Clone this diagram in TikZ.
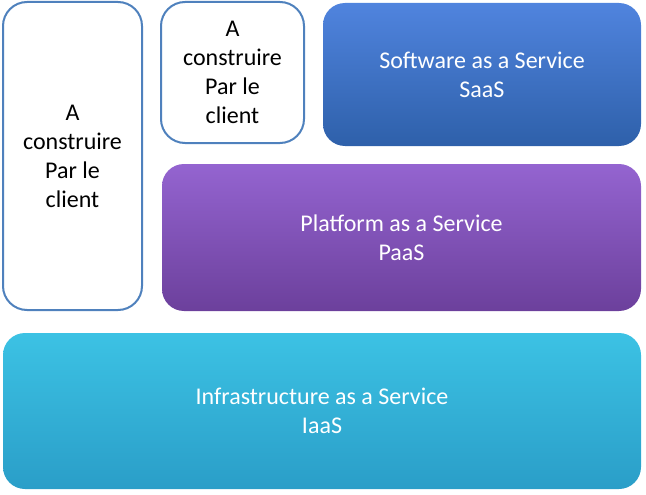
\documentclass[tikz,border=0pt]{standalone}
\usepackage{fontspec}
\setmainfont{Carlito}
\definecolor{outl}{RGB}{79,129,189}
\definecolor{saastop}{RGB}{80,132,222}
\definecolor{saasbot}{RGB}{46,96,170}
\definecolor{paastop}{RGB}{148,100,208}
\definecolor{paasbot}{RGB}{108,64,156}
\definecolor{iaastop}{RGB}{60,194,228}
\definecolor{iaasbot}{RGB}{42,158,200}
\begin{document}
\begin{tikzpicture}[x=1pt,y=-1pt,
  clientbox/.style={draw=outl,line width=2pt,fill=white,rounded corners=24pt,
    align=center,text=black,inner sep=0pt,
    font=\fontsize{24}{29}\selectfont},
  svcbox/.style={rounded corners=22pt,align=center,text=white,inner sep=0pt,
    font=\fontsize{24}{29}\selectfont}]
\useasboundingbox (0,0) rectangle (646,495);
\node[clientbox,minimum width=139pt,minimum height=308pt] (left) at (72.5,156)
  {A\\construire\\Par le\\client};
\node[clientbox,minimum width=143pt,minimum height=141pt] (small) at (232.5,72.5)
  {A\\construire\\Par le\\client};
\node[svcbox,top color=saastop,bottom color=saasbot,minimum width=318pt,minimum height=143pt] (saas) at (482,74.5)
  {Software as a Service\\SaaS};
\node[svcbox,top color=paastop,bottom color=paasbot,minimum width=479pt,minimum height=147pt] (paas) at (401.5,237.5)
  {Platform as a Service\\PaaS};
\node[svcbox,top color=iaastop,bottom color=iaasbot,minimum width=638pt,minimum height=156pt] (iaas) at (322,411)
  {Infrastructure as a Service\\IaaS};
\end{tikzpicture}
\end{document}
